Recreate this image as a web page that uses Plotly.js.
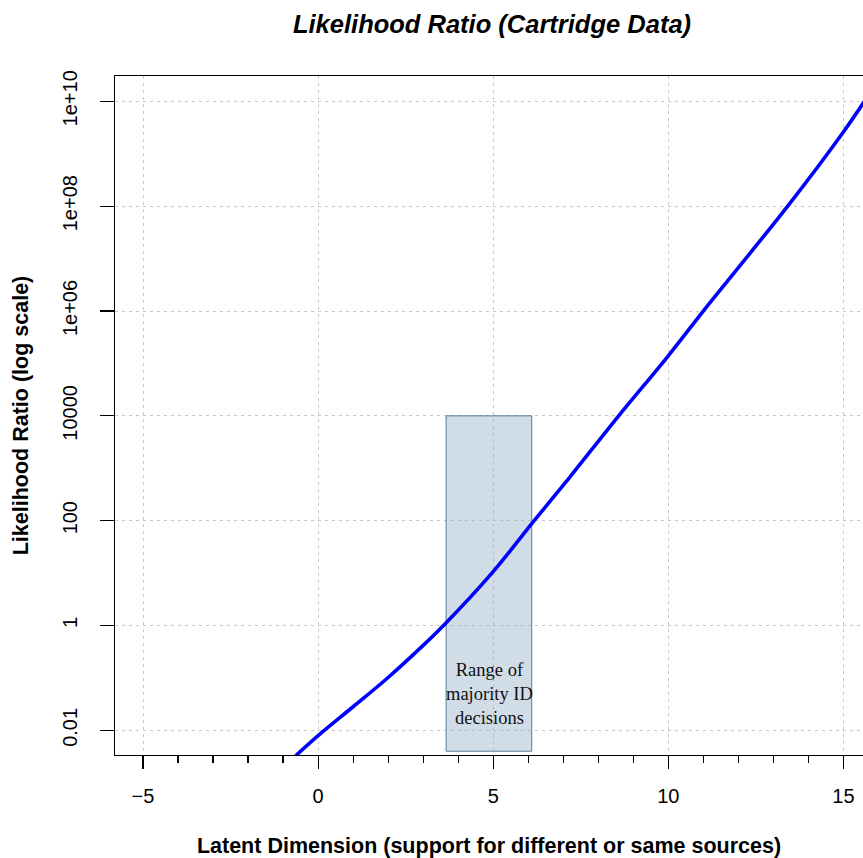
<!DOCTYPE html>
<html>
<head>
<meta charset="utf-8">
<script src="https://cdn.plot.ly/plotly-3.0.1.min.js"></script>
<style>html,body{margin:0;padding:0;background:#fff;}#chart{width:863px;height:858px;}</style>
</head>
<body>
<div id="chart"></div>
<script>
// Likelihood ratio curve
const latent = [-0.8, -0.6, 0, 1, 2, 3, 3.58, 5, 6.17, 7.19, 8.56, 10, 11.01, 13.41, 15, 15.6];
const likelihoodRatio = [0.0026, 0.00347, 0.00794, 0.0282, 0.102, 0.417, 1.0, 10.7, 100, 680, 9.6e3, 1.4e5, 1.02e6, 1e8, 2.6e9, 1.0e10];

// Shaded "Range of majority ID decisions" band
const bandX = [3.655, 6.10];
const bandY = [0.004, 1e4];
const bandLabel = "Range of<br>majority ID<br>decisions";
const bandLabelPos = [4.89, 0.049];

const yTickVals = [0.01, 1, 100, 1e4, 1e6, 1e8, 1e10];
const yTickText = ["0.01", "1", "100", "10000", "1e+06", "1e+08", "1e+10"];
const xTickVals = [-5, 0, 5, 10, 15];
const xTickText = ["\u22125", "0", "5", "10", "15"];

const band = {
  x: [bandX[0], bandX[1], bandX[1], bandX[0], bandX[0]],
  y: [bandY[0], bandY[0], bandY[1], bandY[1], bandY[0]],
  mode: "lines",
  fill: "toself",
  fillcolor: "rgba(150,180,202,0.45)",
  line: {color: "#5a7d98", width: 1},
  hoverinfo: "skip",
  showlegend: false
};
const curve = {
  x: latent,
  y: likelihoodRatio,
  mode: "lines",
  line: {color: "#0000ff", width: 3.6, shape: "spline", smoothing: 1},
  showlegend: false
};

const tickFont = {family: "Liberation Sans, Arial, sans-serif", size: 20, color: "#000"};
const layout = {
  width: 863, height: 858,
  margin: {l: 115, r: 0, t: 76, b: 103, pad: 0},
  paper_bgcolor: "#fff", plot_bgcolor: "#fff",
  showlegend: false,
  title: {
    text: "<b><i>Likelihood Ratio (Cartridge Data)</i></b>",
    font: {family: "Liberation Sans, Arial, sans-serif", size: 25.5, color: "#000"},
    xref: "container", x: 492 / 863, xanchor: "center",
    yref: "container", y: 1 - 24 / 858, yanchor: "middle"
  },
  xaxis: {
    range: [-5.80, 15.56],
    tickvals: xTickVals,
    ticktext: xTickText,
    ticks: "outside", ticklen: 13, tickwidth: 1.2, tickcolor: "#000",
    minor: {dtick: 1, tick0: 0, ticks: "outside", ticklen: 7, tickwidth: 1.2, tickcolor: "#000", showgrid: false},
    showline: true, mirror: true, linecolor: "#000", linewidth: 1.4,
    showgrid: true, gridcolor: "#c8c8c8", gridwidth: 1, griddash: "3px,4px",
    zeroline: false,
    tickfont: tickFont,
    ticklabelstandoff: 10,
    title: {
      text: "<b>Latent Dimension (support for different or same sources)</b>",
      font: {family: "Liberation Sans, Arial, sans-serif", size: 21.5, color: "#000"},
      standoff: 40
    }
  },
  yaxis: {
    type: "log",
    range: [-2.47, 10.483],
    tickvals: yTickVals,
    ticktext: yTickText,
    tickangle: -90,
    ticks: "outside", ticklen: 14, tickwidth: 1.2, tickcolor: "#000",
    showline: true, mirror: false, linecolor: "#000", linewidth: 1.4,
    showgrid: true, gridcolor: "#c8c8c8", gridwidth: 1, griddash: "3px,4px",
    zeroline: false,
    tickfont: tickFont,
    ticklabelstandoff: 15,
    title: {
      text: "<b>Likelihood Ratio (log scale)</b>",
      font: {family: "Liberation Sans, Arial, sans-serif", size: 21.5, color: "#000"},
      standoff: 24
    }
  },
  annotations: [{
    x: bandLabelPos[0], y: Math.log10(bandLabelPos[1]),
    xref: "x", yref: "y",
    text: bandLabel, showarrow: false,
    font: {family: "Liberation Serif, Times New Roman, serif", size: 18.5, color: "#111"},
    align: "center", xanchor: "center", yanchor: "middle"
  }]
};

Plotly.newPlot("chart", [band, curve], layout, {staticPlot: true, displayModeBar: false});
</script>
</body>
</html>
